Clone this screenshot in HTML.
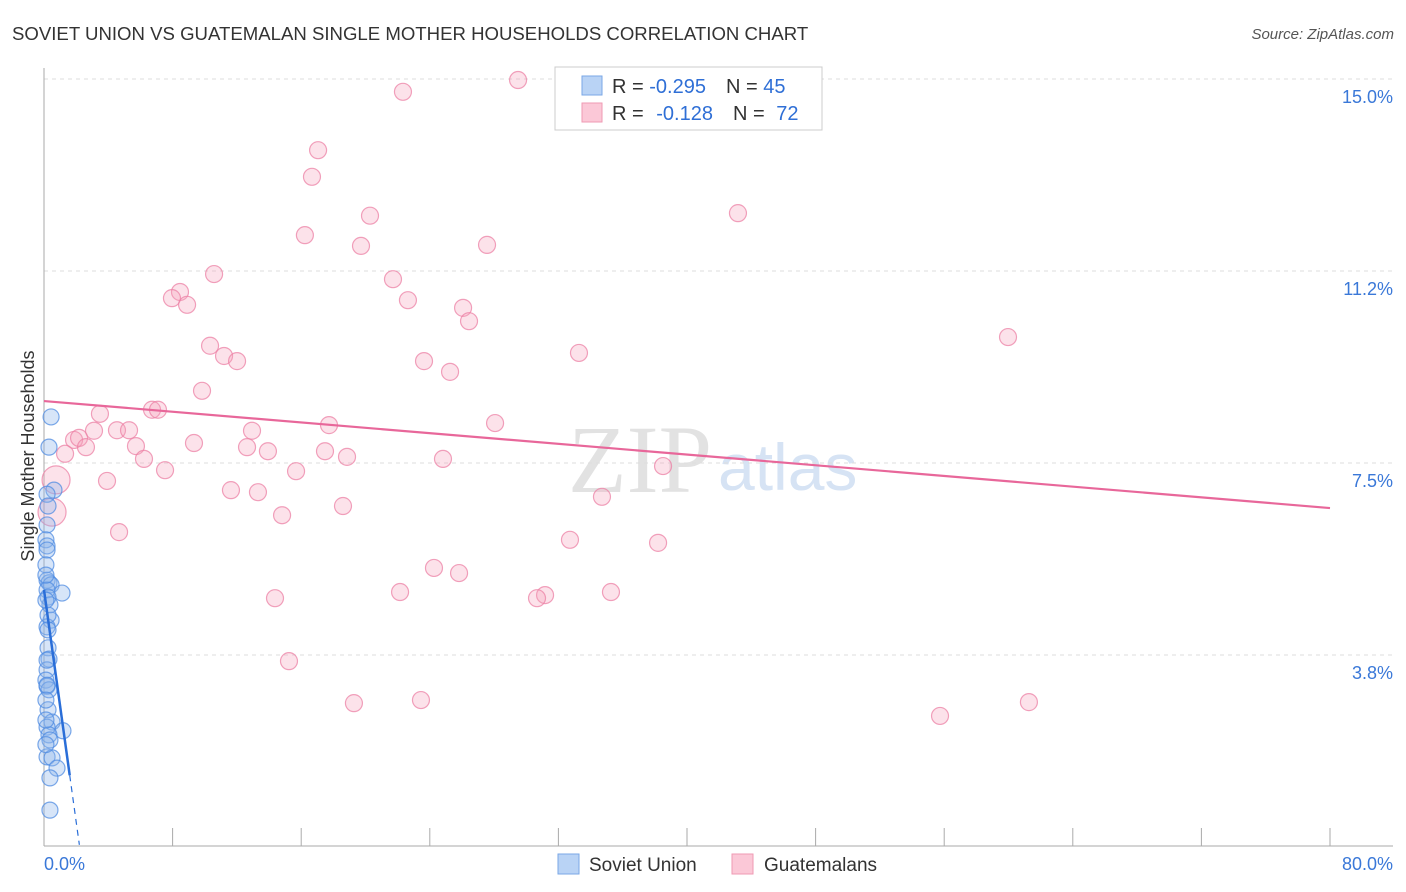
<!DOCTYPE html>
<html><head><meta charset="utf-8"><style>
body{margin:0;background:#fff;font-family:"Liberation Sans",sans-serif;}
svg{display:block}
</style></head><body>
<svg id="chart" width="1406" height="892">
<text x="12" y="40" font-size="18.6" fill="#333">SOVIET UNION VS GUATEMALAN SINGLE MOTHER HOUSEHOLDS CORRELATION CHART</text>
<text x="1394" y="39" font-size="15" fill="#555" text-anchor="end" font-style="italic">Source: ZipAtlas.com</text>
<text x="712" y="492" font-size="96" fill="#e2e2e2" font-family="Liberation Serif,serif" text-anchor="end">ZIP</text>
<text x="718" y="490" font-size="66" fill="#d6e3f4">atlas</text>
<g id="grid"></g>
<g id="axes"></g>
<g id="pts"></g>
<g id="trend"></g>
<text transform="translate(34,456) rotate(-90)" font-size="18" fill="#333" text-anchor="middle">Single Mother Households</text>
<g>
<rect x="555" y="67" width="267" height="63" fill="#fff" stroke="#ccc"/>
<rect x="582" y="76" width="20" height="19" fill="#b9d3f5" stroke="#7aa7e6"/>
<rect x="582" y="103" width="20" height="19" fill="#fbc8d7" stroke="#ef9ab3"/>
<text x="612" y="93" font-size="20" fill="#333">R = <tspan fill="#2f6fd6">-0.295</tspan><tspan dx="20">N = </tspan><tspan fill="#2f6fd6">45</tspan></text>
<text x="612" y="120" font-size="20" fill="#333">R = <tspan dx="7" fill="#2f6fd6">-0.128</tspan><tspan dx="20">N = </tspan><tspan dx="6" fill="#2f6fd6">72</tspan></text>
</g>
<g>
<rect x="558" y="854" width="21" height="20" fill="#b9d3f5" stroke="#7aa7e6"/>
<text x="589" y="871" font-size="19" fill="#333">Soviet Union</text>
<rect x="732" y="854" width="21" height="20" fill="#fbc8d7" stroke="#ef9ab3"/>
<text x="764" y="871" font-size="19" fill="#333">Guatemalans</text>
</g>
</svg>
<script>
const yTicks=[15.0,11.25,7.5,3.75];
const yTickLabels=["15.0%","11.2%","7.5%","3.8%"];
const xTickLabels=["0.0%","80.0%"];
const blueX=[0.44,0.31,0.62,0.19,0.25,0.19,0.12,0.19,0.19,0.12,0.19,0.31,0.44,0.19,1.12,0.25,0.37,0.44,0.19,0.25,0.31,0.19,0.12,0.19,0.31,0.25,0.50,1.18,0.19,0.31,0.37,0.19,0.50,0.81,0.37,0.37,0.12,0.25,0.19,0.12,0.12,0.12,0.25,0.12,0.19];
const blueY=[8.40,7.81,6.97,6.89,6.66,6.29,6.00,5.88,5.80,5.51,5.21,5.16,5.12,5.02,4.96,4.88,4.73,4.43,4.30,3.89,3.67,3.46,3.26,3.14,3.07,2.68,2.44,2.27,2.34,2.19,2.09,1.76,1.74,1.54,1.35,0.72,4.82,4.24,3.16,2.87,2.48,2.00,4.53,5.31,3.65];
const pinkX=[29.49,22.33,17.05,16.67,20.28,43.17,16.23,19.72,27.56,10.58,21.71,8.46,7.96,8.90,22.64,26.07,26.44,59.97,10.33,11.20,12.01,33.28,23.64,25.26,9.83,6.72,7.09,3.48,17.73,28.06,3.11,4.54,5.29,12.94,1.87,2.18,2.61,5.72,9.33,12.63,13.93,17.48,1.31,6.22,18.85,24.82,38.51,7.53,15.68,3.92,0.75,11.63,13.31,34.71,18.60,0.50,14.81,4.67,32.72,38.20,24.26,25.82,22.15,31.17,30.67,35.27,14.37,15.24,23.45,19.28,55.74,61.27];
const pinkY=[14.98,14.75,13.61,13.09,12.33,12.38,11.95,11.74,11.76,11.19,11.09,10.84,10.72,10.59,10.68,10.53,10.27,9.96,9.79,9.59,9.49,9.65,9.49,9.28,8.91,8.54,8.54,8.46,8.24,8.28,8.13,8.14,8.14,8.13,7.95,7.99,7.81,7.83,7.89,7.81,7.73,7.73,7.68,7.58,7.62,7.58,7.44,7.36,7.34,7.15,7.17,6.97,6.93,6.84,6.66,6.54,6.48,6.15,6.00,5.94,5.45,5.35,4.98,4.92,4.86,4.98,4.86,3.63,2.87,2.81,2.56,2.83];
const pinkBig=[50,55];
const pinkTrend=[8.71,6.62];
const blueTrend=[5.02,1.40];
const blueTrendEndX=1.6;
const blueDashEndX=2.2;
const NS="http://www.w3.org/2000/svg";
const xs=v=>44+v*16.075, ys=v=>847-v*51.2;
function mk(tag,attrs,parent){const e=document.createElementNS(NS,tag);for(const k in attrs)e.setAttribute(k,attrs[k]);parent.appendChild(e);return e;}
const grid=document.getElementById('grid'),axes=document.getElementById('axes'),pts=document.getElementById('pts'),tr=document.getElementById('trend');
yTicks.forEach((t,i)=>{
 const l=mk('line',{x1:44,x2:1393,y1:ys(t),y2:ys(t),stroke:'#ddd','stroke-dasharray':'4,4'},grid);
 
 
 const tx=mk('text',{x:1393,y:ys(t)+24,'font-size':18,fill:'#3a78d8','text-anchor':'end'},grid);
 tx.textContent=yTickLabels[i];
 
 
});
const ya=mk('line',{x1:44,x2:44,y1:68,y2:846,stroke:'#aaa'},axes);


const xa=mk('line',{x1:44,x2:1393,y1:846,y2:846,stroke:'#aaa'},axes);


for(let i=1;i<=10;i++){
 const t=mk('line',{x1:xs(i*8),x2:xs(i*8),y1:828,y2:846,stroke:'#aaa'},axes);
 
 
}
const xl0=mk('text',{x:44,y:870,'font-size':18,fill:'#3a78d8'},axes);xl0.textContent=xTickLabels[0];


const xl1=mk('text',{x:1393,y:870,'font-size':18,fill:'#3a78d8','text-anchor':'end'},axes);xl1.textContent=xTickLabels[1];


pinkX.forEach((v,i)=>{
 const c=mk('circle',{cx:xs(v),cy:ys(pinkY[i]),r:pinkBig.includes(i)?14:8.5,fill:'rgba(246,160,187,0.3)',stroke:'rgba(236,130,165,0.75)','stroke-width':1.2},pts);
 
 
});
blueX.forEach((v,i)=>{
 const c=mk('circle',{cx:xs(v),cy:ys(blueY[i]),r:8,fill:'rgba(140,180,235,0.35)',stroke:'rgba(80,140,225,0.75)','stroke-width':1.2},pts);
 
 
});
const pl=mk('line',{x1:xs(0),y1:ys(pinkTrend[0]),x2:xs(80),y2:ys(pinkTrend[1]),stroke:'#e8679a','stroke-width':2.2},tr);


const bl=mk('line',{x1:xs(0),y1:ys(blueTrend[0]),x2:xs(blueTrendEndX),y2:ys(blueTrend[1]),stroke:'#2a6ed8','stroke-width':2.5},tr);


const slope=(blueTrend[1]-blueTrend[0])/blueTrendEndX;
const bd=mk('line',{x1:xs(blueTrendEndX),y1:ys(blueTrend[1]),x2:xs(blueDashEndX),y2:ys(blueTrend[0]+slope*blueDashEndX),stroke:'#2a6ed8','stroke-width':1.2,'stroke-dasharray':'6,5'},tr);


</script>
</body></html>
